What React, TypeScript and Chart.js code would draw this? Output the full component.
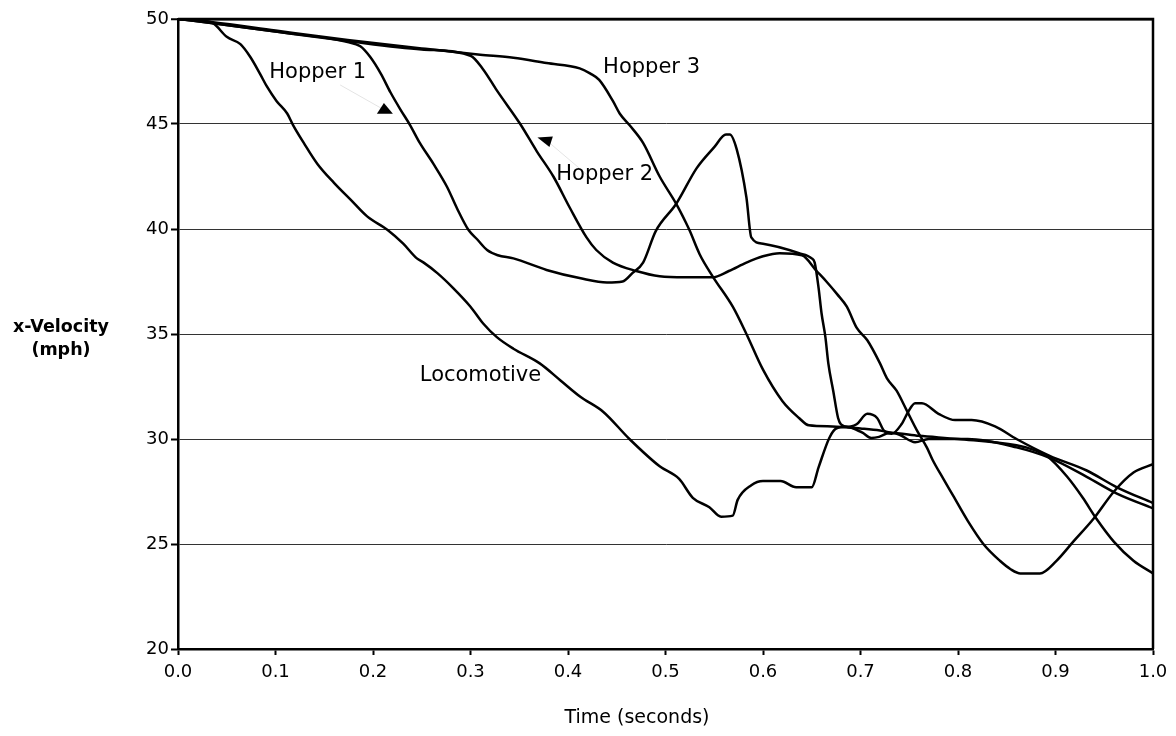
import React, { useEffect, useRef } from 'react';
import { Chart, registerables } from 'chart.js';

Chart.register(...registerables);

// ---- axis ticks ----
const xTickValues = [0, 0.1, 0.2, 0.3, 0.4, 0.5, 0.6, 0.7, 0.8, 0.9, 1.0];
const yTickValues = [20, 25, 30, 35, 40, 45, 50];

// ---- series: Locomotive ----
const locomotiveT = [0, 0.02, 0.036, 0.05, 0.064, 0.074, 0.084, 0.091, 0.101, 0.112, 0.118, 0.129, 0.143, 0.16, 0.177, 0.194, 0.215, 0.231, 0.245, 0.252, 0.266, 0.282, 0.3, 0.313, 0.327, 0.344, 0.371, 0.392, 0.413, 0.436, 0.463, 0.494, 0.514, 0.528, 0.545, 0.557, 0.569, 0.574, 0.588, 0.6, 0.618, 0.634, 0.65, 0.657, 0.668, 0.675, 0.69, 0.696, 0.707, 0.717, 0.724, 0.732, 0.742, 0.749, 0.756, 0.763, 0.78, 0.797, 0.814, 0.838, 0.86, 0.894, 0.932, 0.963, 1.0];
const locomotiveV = [50, 49.95, 49.8, 49.15, 48.8, 48.2, 47.4, 46.8, 46.1, 45.5, 44.95, 44.1, 43.1, 42.2, 41.4, 40.6, 39.95, 39.3, 38.6, 38.4, 37.9, 37.2, 36.3, 35.5, 34.85, 34.3, 33.6, 32.8, 32.0, 31.3, 30.0, 28.7, 28.1, 27.2, 26.75, 26.3, 26.35, 27.1, 27.8, 28.0, 28.0, 27.7, 27.7, 28.65, 30.05, 30.5, 30.6, 30.7, 31.2, 31.0, 30.4, 30.25, 30.7, 31.3, 31.7, 31.7, 31.2, 30.9, 30.9, 30.6, 30.0, 29.2, 28.5, 27.7, 26.95];

// ---- series: Hopper 1 ----
const hopper1T = [0, 0.036, 0.1, 0.174, 0.187, 0.197, 0.208, 0.218, 0.228, 0.238, 0.248, 0.262, 0.276, 0.286, 0.298, 0.307, 0.317, 0.328, 0.344, 0.378, 0.413, 0.44, 0.456, 0.466, 0.477, 0.49, 0.511, 0.532, 0.55, 0.562, 0.566, 0.573, 0.583, 0.588, 0.6, 0.637, 0.65, 0.653, 0.657, 0.66, 0.664, 0.667, 0.672, 0.677, 0.68, 0.69, 0.702, 0.711, 0.719, 0.73, 0.76, 0.8, 0.86, 0.88, 0.891, 0.912, 0.928, 0.942, 0.96, 0.98, 1.0];
const hopper1V = [50, 49.8, 49.4, 48.9, 48.7, 48.2, 47.4, 46.5, 45.7, 44.95, 44.1, 43.1, 42.0, 41.0, 39.95, 39.5, 39.0, 38.75, 38.6, 38.05, 37.65, 37.45, 37.5, 37.9, 38.4, 39.9, 41.2, 42.9, 43.9, 44.5, 44.5, 43.8, 41.5, 39.6, 39.3, 38.85, 38.6, 38.4, 37.2, 36.0, 34.85, 33.6, 32.3, 31.0, 30.7, 30.55, 30.3, 30.05, 30.1, 30.3, 30.15, 30.0, 29.7, 29.45, 29.2, 28.2, 27.2, 26.2, 25.1, 24.2, 23.6];

// ---- series: Hopper 2 ----
const hopper2T = [0, 0.036, 0.1, 0.174, 0.25, 0.3, 0.313, 0.327, 0.351, 0.368, 0.385, 0.402, 0.419, 0.429, 0.446, 0.47, 0.494, 0.52, 0.548, 0.565, 0.583, 0.6, 0.617, 0.64, 0.655, 0.665, 0.676, 0.686, 0.696, 0.707, 0.72, 0.727, 0.737, 0.747, 0.758, 0.768, 0.774, 0.785, 0.795, 0.81, 0.826, 0.843, 0.854, 0.864, 0.884, 0.901, 0.918, 0.939, 0.96, 0.98, 1.0];
const hopper2V = [50, 49.8, 49.4, 48.95, 48.55, 48.25, 47.6, 46.6, 45.0, 43.7, 42.5, 41.0, 39.6, 39.0, 38.4, 38.0, 37.75, 37.7, 37.7, 38.0, 38.4, 38.7, 38.85, 38.75, 38.0, 37.5, 36.9, 36.3, 35.3, 34.7, 33.6, 32.9, 32.3, 31.4, 30.4, 29.6, 29.0, 28.1, 27.3, 26.1, 25.0, 24.2, 23.8, 23.6, 23.6, 24.2, 25.1, 26.2, 27.5, 28.4, 28.8];

// ---- series: Hopper 3 ----
const hopper3T = [0, 0.036, 0.1, 0.174, 0.25, 0.31, 0.344, 0.378, 0.412, 0.423, 0.432, 0.446, 0.453, 0.463, 0.477, 0.494, 0.511, 0.521, 0.525, 0.535, 0.549, 0.569, 0.583, 0.6, 0.62, 0.637, 0.647, 0.671, 0.7, 0.72, 0.74, 0.756, 0.77, 0.81, 0.86, 0.894, 0.932, 0.963, 1.0];
const hopper3V = [50, 49.85, 49.45, 49.0, 48.6, 48.3, 48.15, 47.9, 47.65, 47.4, 47.1, 46.1, 45.5, 44.95, 44.1, 42.5, 41.2, 40.3, 39.9, 38.8, 37.7, 36.3, 35.0, 33.3, 31.8, 31.0, 30.65, 30.6, 30.5, 30.4, 30.2, 29.85, 30.0, 30.0, 29.6, 29.1, 28.2, 27.4, 26.7];

const seriesNames = ['Locomotive', 'Hopper 1', 'Hopper 2', 'Hopper 3'];
const seriesT = [locomotiveT, hopper1T, hopper2T, hopper3T];
const seriesV = [locomotiveV, hopper1V, hopper2V, hopper3V];

// ---- in-chart labels (data coordinates) ----
const labelTexts = ['Hopper 1', 'Hopper 2', 'Hopper 3', 'Locomotive'];
const labelT = [0.0936, 0.388, 0.436, 0.248];
const labelV = [47.44, 42.57, 47.68, 33.04];

// arrows: leader start and arrowhead location (data coordinates)
const arrowFromT = [0.1663, 0.4257];
const arrowFromV = [46.86, 42.34];
const arrowT = [0.2119, 0.378];
const arrowV = [45.66, 44.22];

const xTitle = 'Time (seconds)';
const yTitleLines = ['x-Velocity', '(mph)'];

const FONT = "'DejaVu Sans', sans-serif";

export default function App() {
  const canvasRef = useRef<HTMLCanvasElement | null>(null);

  useEffect(() => {
    const canvas = canvasRef.current;
    if (!canvas) return;

    const datasets = seriesNames.map((name, i) => ({
      label: name,
      data: seriesT[i].map((t, j) => ({ x: t, y: seriesV[i][j] })),
      borderColor: '#000000',
      backgroundColor: '#000000',
      borderWidth: 2.5,
      pointRadius: 0,
      fill: false,
      cubicInterpolationMode: 'monotone' as const,
    }));

    const annotationPlugin = {
      id: 'annotations',
      afterDatasetsDraw(chart: any) {
        const ctx = chart.ctx;
        const xs = chart.scales.x;
        const ys = chart.scales.y;
        const area = chart.chartArea;
        ctx.save();
        // right border and top border
        ctx.strokeStyle = '#000';
        ctx.lineWidth = 2.5;
        ctx.beginPath();
        ctx.moveTo(area.left, area.top);
        ctx.lineTo(area.right, area.top);
        ctx.lineTo(area.right, area.bottom);
        ctx.stroke();

        // faint leader lines
        ctx.strokeStyle = '#e4e4e4';
        ctx.lineWidth = 1;
        for (let i = 0; i < arrowT.length; i++) {
          ctx.beginPath();
          ctx.moveTo(xs.getPixelForValue(arrowFromT[i]), ys.getPixelForValue(arrowFromV[i]));
          ctx.lineTo(xs.getPixelForValue(arrowT[i]), ys.getPixelForValue(arrowV[i]));
          ctx.stroke();
        }
        // arrowheads
        ctx.fillStyle = '#000';
        const shapes = [
          [[-0.7, -7.1], [-7.7, 3.6], [8.3, 3.6]],
          [[-9.1, -2.9], [6.3, -3.9], [2.9, 6.7]],
        ];
        for (let i = 0; i < arrowT.length; i++) {
          const cx = xs.getPixelForValue(arrowT[i]);
          const cy = ys.getPixelForValue(arrowV[i]);
          const s = shapes[i];
          ctx.beginPath();
          ctx.moveTo(cx + s[0][0], cy + s[0][1]);
          ctx.lineTo(cx + s[1][0], cy + s[1][1]);
          ctx.lineTo(cx + s[2][0], cy + s[2][1]);
          ctx.closePath();
          ctx.fill();
        }
        // labels
        ctx.font = `21px ${FONT}`;
        ctx.textAlign = 'left';
        ctx.textBaseline = 'middle';
        for (let i = 0; i < labelTexts.length; i++) {
          const px = xs.getPixelForValue(labelT[i]);
          const py = ys.getPixelForValue(labelV[i]);
          ctx.fillStyle = '#000';
          ctx.fillText(labelTexts[i], px, py);
        }
        // axis titles
        ctx.textAlign = 'center';
        ctx.font = `bold 17.5px ${FONT}`;
        ctx.fillText(yTitleLines[0], 61, 327);
        ctx.fillText(yTitleLines[1], 61, 350);
        ctx.font = `19px ${FONT}`;
        ctx.fillText(xTitle, 637, 718);
        ctx.restore();
      },
    };

    const chart = new Chart(canvas, {
      type: 'line',
      data: { datasets },
      options: {
        animation: false,
        responsive: false,
        maintainAspectRatio: false,
        devicePixelRatio: 1,
        layout: { padding: { top: 19, right: 23, bottom: 0, left: 0 } },
        plugins: {
          legend: { display: false },
          tooltip: { enabled: false },
        },
        elements: { line: { tension: 0.3 } },
        scales: {
          x: {
            type: 'linear',
            min: 0,
            max: 1,
            afterFit: (scale: any) => {
              scale.height = 87;
            },
            afterBuildTicks: (scale: any) => {
              scale.ticks = xTickValues.map((v) => ({ value: v }));
            },
            ticks: {
              color: '#000',
              font: { family: FONT, size: 18 },
              padding: 7,
              maxRotation: 0,
              autoSkip: false,
              callback: (v: any) => Number(v).toFixed(1),
            },
            grid: {
              drawOnChartArea: false,
              drawTicks: true,
              tickLength: 6,
              tickColor: '#000',
              tickWidth: 2,
            },
            border: { display: true, color: '#000', width: 2.5 },
          },
          y: {
            type: 'linear',
            min: 20,
            max: 50,
            afterFit: (scale: any) => {
              scale.width = 178;
            },
            afterBuildTicks: (scale: any) => {
              scale.ticks = yTickValues.map((v) => ({ value: v }));
            },
            ticks: {
              color: '#000',
              font: { family: FONT, size: 18 },
              padding: 2,
              autoSkip: false,
              callback: (v: any) => String(v),
            },
            grid: {
              drawOnChartArea: true,
              drawTicks: true,
              tickLength: 7,
              tickColor: '#000',
              tickWidth: 2,
              color: (c: any) => (c.tick && c.tick.value === 50 ? '#000' : '#333'),
              lineWidth: (c: any) => (c.tick && c.tick.value === 50 ? 2.5 : 1),
            },
            border: { display: true, color: '#000', width: 2.5 },
          },
        },
      },
      plugins: [annotationPlugin],
    });

    return () => {
      chart.destroy();
    };
  }, []);

  return (
    <div style={{ position: 'fixed', left: 0, top: 0, width: 1176, height: 736, background: '#fff' }}>
      <canvas ref={canvasRef} width={1176} height={736} style={{ display: 'block' }} />
    </div>
  );
}
